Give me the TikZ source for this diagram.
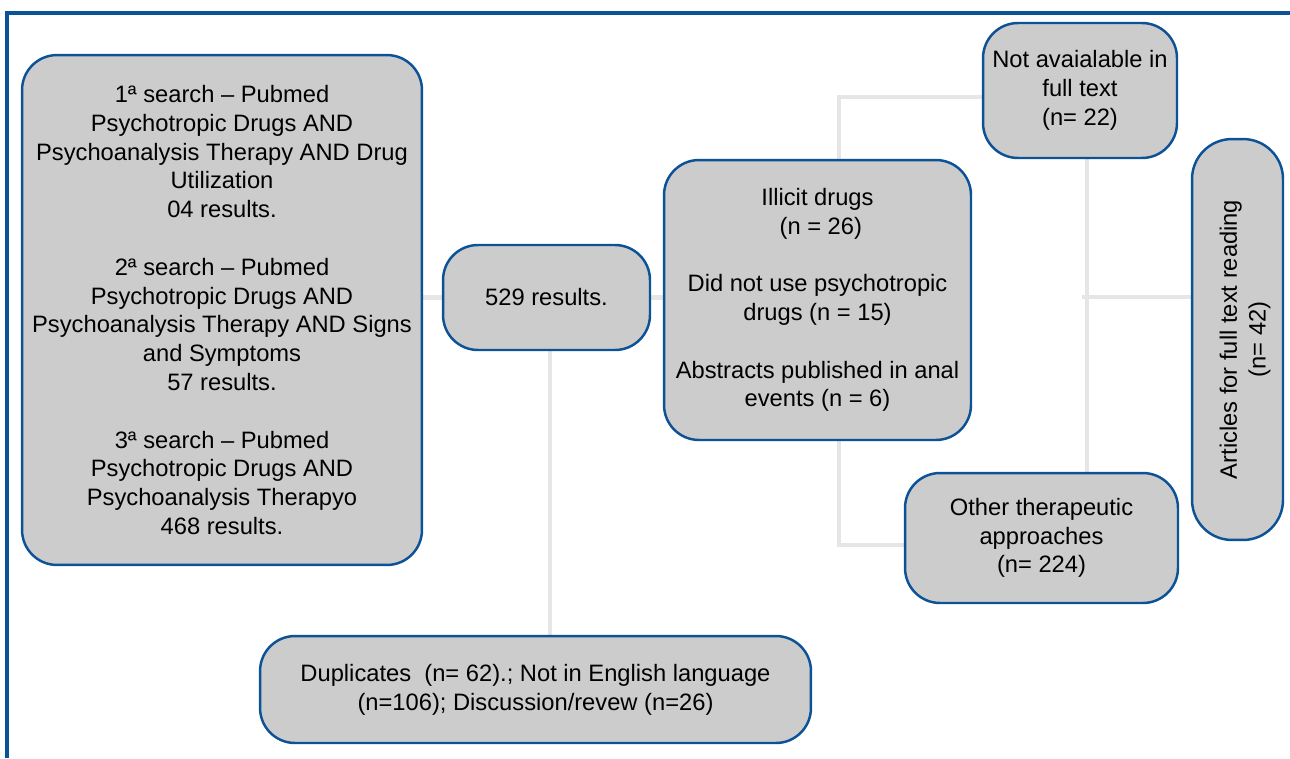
\documentclass[tikz,border=0pt]{standalone}
\usepackage{fontspec}
\setmainfont{Liberation Sans}
\usetikzlibrary{positioning, backgrounds}

\definecolor{boxblue}{RGB}{12,82,150}
\definecolor{boxgray}{RGB}{204,204,204}
\definecolor{linkgray}{RGB}{230,230,230}

\tikzset{
    box/.style={draw=boxblue, line width=1.4pt, fill=boxgray, rounded corners=0.7cm,
        align=center, inner sep=0pt, font=\fontsize{13.5}{16.4}\selectfont},
    link/.style={draw=linkgray, line width=2.8pt},
    frame/.style={draw=boxblue, line width=2.3pt},
}

\begin{document}
\begin{tikzpicture}[x=0.02cm, y=-0.02cm]

\useasboundingbox (0,0) rectangle (1290,758);
\draw[frame] (1290,13) -| (7,758);

% searches
\node[box, minimum width=8cm, minimum height=10.2cm] (search) at (222,310)
    {1ª search – Pubmed\\
     Psychotropic Drugs AND\\
     Psychoanalysis Therapy AND Drug\\
     Utilization\\
     04 results.\\[16.4pt]
     2ª search – Pubmed\\
     Psychotropic Drugs AND\\
     Psychoanalysis Therapy AND Signs\\
     and Symptoms\\
     57 results.\\[16.4pt]
     3ª search – Pubmed\\
     Psychotropic Drugs AND\\
     Psychoanalysis Therapyo\\
     468 results.};

\node[box, minimum width=4.14cm, minimum height=2.1cm] (res) at (546.5,297.5) {529 results.};

% exclusions
\node[box, minimum width=6.14cm, minimum height=5.6cm] (illicit) at (817.5,300)
    {Illicit drugs\\
     \ (n = 26)\\[16.4pt]
     Did not use psychotropic\\
     drugs (n = 15)\\[16.4pt]
     Abstracts published in anal\\
     events (n = 6)};

\node[box, minimum width=11.02cm, minimum height=2.14cm] (dup) at (535.5,689.5)
    {Duplicates~~(n= 62).; Not in English language\\
     (n=106); Discussion/revew (n=26)};

\node[box, minimum width=3.88cm, minimum height=2.7cm] (navail) at (1080,90.5)
    {Not avaialable in\\
     full text\\
     (n= 22)};

\node[box, minimum width=5.46cm, minimum height=2.6cm] (other) at (1041.5,538)
    {Other therapeutic\\
     approaches\\
     (n= 224)};

% result
\node[box, rotate=90, rounded corners=0.8cm, minimum width=8.02cm, minimum height=1.82cm] (art) at (1237.5,339.5)
    {\raisebox{-4.5pt}[\height][\depth]{\begin{tabular}{@{}c@{}}Articles for full text reading\\ (n= 42)\end{tabular}}};

% connectors
\coordinate (brk-t) at (839,97);
\coordinate (brk-b) at (839,545);
\coordinate (jn) at (1087,297);

\begin{scope}[on background layer]
    \draw[link] (search.east |- res.west) -- (res.west);
    \draw[link] (res.east) -- (illicit.west |- res.east);
    \draw[link] (res.south -| 550,0) -- (dup.north -| 550,0);
    \draw[link] (navail.west |- brk-t) -- (brk-t) -- (brk-b) -- (other.west |- brk-b);
    \draw[link] (navail.south -| jn) -- (other.north -| jn);
    \draw[link] ([xshift=-3] jn) -- (art.north |- jn);
\end{scope}

\end{tikzpicture}
\end{document}
